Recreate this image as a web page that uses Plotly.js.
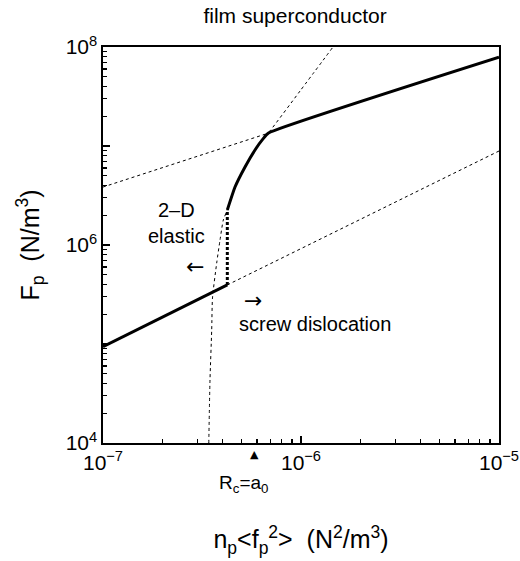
<!DOCTYPE html>
<html>
<head>
<meta charset="utf-8">
<script src="https://cdn.plot.ly/plotly-3.0.1.min.js"></script>
<style>html,body{margin:0;padding:0;background:#fff;}#chart{width:520px;height:561px;}</style>
</head>
<body>
<div id="chart"></div>
<script>
// ---- data ----
const lowerSolidX = [1e-7, 4.245e-7];
const lowerSolidY = [9.4e4, 3.95e5];
const upperSolidX = [4.245e-7, 4.642e-7, 5.215e-7, 5.858e-7, 6.43e-7, 6.855e-7, 1e-5];
const upperSolidY = [2.26e6, 3.85e6, 6.14e6, 9.12e6, 1.18e7, 1.35e7, 7.87e7];
const jumpX = [4.245e-7, 4.245e-7];
const jumpY = [3.95e5, 2.26e6];
const elasticX = [3.422e-7, 3.47e-7, 3.54e-7, 3.573e-7, 3.752e-7, 3.899e-7, 4.052e-7, 4.245e-7, 4.642e-7, 5.215e-7, 5.858e-7, 6.43e-7, 6.971e-7, 9.884e-7, 1.451e-6];
const elasticY = [1.0e4, 4.33e4, 1.38e5, 2.92e5, 6.58e5, 1.12e6, 1.79e6, 2.26e6, 3.85e6, 6.14e6, 9.12e6, 1.18e7, 1.42e7, 3.59e7, 1.0e8];
const upperAsymX = [1e-7, 6.855e-7];
const upperAsymY = [3.85e6, 1.35e7];
const lowerAsymX = [4.245e-7, 1e-5];
const lowerAsymY = [3.95e5, 8.9e6];
const xTickVals = [1e-7, 1e-6, 1e-5];
const xTickText = ['10<sup>\u22127</sup>', '10<sup>\u22126</sup>', '10<sup>\u22125</sup>'];
const yTickVals = [1e4, 1e5, 1e6, 1e7, 1e8];
const yTickText = ['10<sup>4</sup>', '', '10<sup>6</sup>', '', '10<sup>8</sup>'];
const rcX = 5.8e-7;

function minorTicks(lo, hi) {
  const v = [];
  for (let e = lo; e < hi; e++) for (let m = 2; m <= 9; m++) v.push(m * Math.pow(10, e));
  return v;
}

const FONT = 'Liberation Sans, Arial, Helvetica, sans-serif';
const ARROWFONT = 'DejaVu Sans, sans-serif';
const dashed = {color: '#000', width: 1, dash: '3px,3px'};

const traces = [
  {x: elasticX, y: elasticY, mode: 'lines', line: Object.assign({shape: 'spline', smoothing: 0.6}, dashed), hoverinfo: 'skip'},
  {x: upperAsymX, y: upperAsymY, mode: 'lines', line: dashed, hoverinfo: 'skip'},
  {x: lowerAsymX, y: lowerAsymY, mode: 'lines', line: dashed, hoverinfo: 'skip'},
  {x: jumpX, y: jumpY, mode: 'lines', line: {color: '#000', width: 3, dash: '3px,2px'}, hoverinfo: 'skip'},
  {x: lowerSolidX, y: lowerSolidY, mode: 'lines', line: {color: '#000', width: 3}, hoverinfo: 'skip'},
  {x: upperSolidX, y: upperSolidY, mode: 'lines', line: {color: '#000', width: 3, shape: 'spline', smoothing: 0.4}, hoverinfo: 'skip'}
];

const axisCommon = {
  type: 'log', showline: true, mirror: true, linecolor: '#000', linewidth: 1.6,
  ticks: 'inside', ticklen: 7, tickwidth: 1.2, tickcolor: '#000',
  showgrid: false, zeroline: false, tickmode: 'array',
  tickfont: {family: FONT, size: 21, color: '#000'}
};

const layout = {
  width: 520, height: 561,
  margin: {l: 103, r: 21, t: 47, b: 118},
  paper_bgcolor: '#fff', plot_bgcolor: '#fff',
  showlegend: false,
  title: {text: 'film superconductor', font: {family: FONT, size: 21, color: '#000'},
          xref: 'paper', x: 0.485, xanchor: 'center', yref: 'container', y: 0.972, yanchor: 'middle'},
  xaxis: Object.assign({}, axisCommon, {
    range: [-7, -5], tickvals: xTickVals, ticktext: xTickText,
    minor: {tickvals: minorTicks(-7, -5), ticks: 'inside', ticklen: 4, tickwidth: 1.2, tickcolor: '#000'},
    title: {text: 'n<sub>p</sub>&lt;f<sub>p</sub><sup>2</sup>&gt;  (N<sup>2</sup>/m<sup>3</sup>)', font: {family: FONT, size: 25, color: '#000'}, standoff: 58}
  }),
  yaxis: Object.assign({}, axisCommon, {
    range: [4, 8], tickvals: yTickVals, ticktext: yTickText,
    minor: {tickvals: minorTicks(4, 8), ticks: 'inside', ticklen: 4, tickwidth: 1.2, tickcolor: '#000'},
    title: {text: 'F<sub>p</sub>  (N/m<sup>3</sup>)', font: {family: FONT, size: 25, color: '#000'}, standoff: 19}
  }),
  annotations: [
    {x: -6.631, y: 6.222, xref: 'x', yref: 'y', text: '2\u2013D<br>elastic', showarrow: false, font: {family: FONT, size: 20, color: '#000'}},
    {x: -6.533, y: 5.778, xref: 'x', yref: 'y', text: '\u2190', showarrow: false, font: {family: ARROWFONT, size: 22, color: '#000'}},
    {x: -6.242, y: 5.444, xref: 'x', yref: 'y', text: '\u2192', showarrow: false, font: {family: ARROWFONT, size: 22, color: '#000'}},
    {x: -5.929, y: 5.202, xref: 'x', yref: 'y', text: 'screw dislocation', showarrow: false, font: {family: FONT, size: 20, color: '#000'}},
    {x: Math.log10(rcX), y: -0.030, xref: 'x', yref: 'paper', yanchor: 'middle', text: '\u25B2', showarrow: false, font: {family: ARROWFONT, size: 11, color: '#000'}},
    {x: -6.290, y: -0.103, xref: 'x', yref: 'paper', yanchor: 'middle', text: 'R<sub>c</sub>=a<sub>0</sub>', showarrow: false, font: {family: FONT, size: 19, color: '#000'}}
  ]
};

Plotly.newPlot('chart', traces, layout, {staticPlot: true, displayModeBar: false});
</script>
</body>
</html>
